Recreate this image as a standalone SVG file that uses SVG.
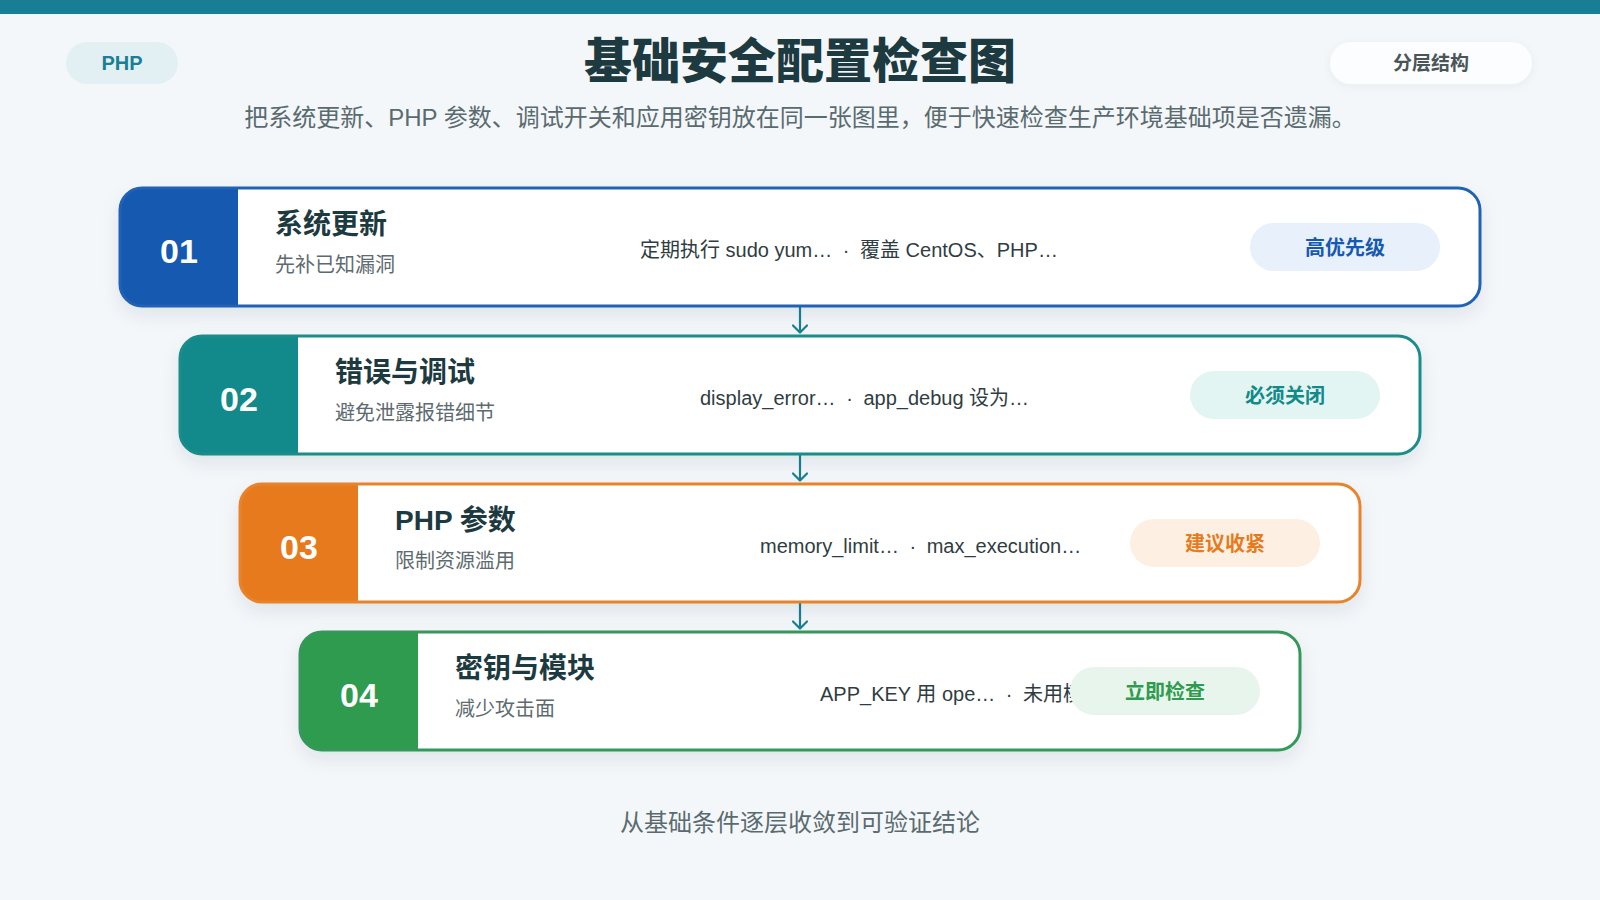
<svg xmlns="http://www.w3.org/2000/svg" width="1600" height="900" viewBox="0 0 1600 900">
<defs>
<filter id="shadow" x="-10%" y="-30%" width="120%" height="170%">
<feDropShadow dx="0" dy="8" stdDeviation="9" flood-color="#1b3a4b" flood-opacity="0.10"/>
</filter>
<filter id="pillShadow" x="-20%" y="-50%" width="140%" height="200%">
<feDropShadow dx="0" dy="2" stdDeviation="4" flood-color="#1b3a4b" flood-opacity="0.05"/>
</filter>
<marker id="chev" viewBox="0 0 10 16" refX="9" refY="8" markerWidth="10" markerHeight="16" markerUnits="userSpaceOnUse" orient="auto">
<path d="M1.5,1 L8.5,8 L1.5,15" fill="none" stroke="#1a7f94" stroke-width="2.2" stroke-linecap="round" stroke-linejoin="round"/>
</marker>
</defs>
<style>
text{font-family:"Liberation Sans","Noto Sans CJK SC",sans-serif}
.cjk{font-family:"Noto Sans CJK SC","Liberation Sans",sans-serif}
.num{font-size:34px;font-weight:700;fill:#ffffff;text-anchor:middle}
.ttl{font-size:28px;font-weight:700;fill:#1d3a40}
.sub{font-size:20px;fill:#5d6b70}
.det{font-size:20px;fill:#2f3d42}
.bdg{font-size:20px;font-weight:700;text-anchor:middle}
.card{fill:#ffffff}
.edge{fill:none;stroke-width:3}
.conn{stroke:#1a7f94;stroke-width:2.2;fill:none}
</style>
<rect x="0" y="0" width="1600" height="900" fill="#f4f7f9"/>
<rect x="0" y="0" width="1600" height="14" fill="#177e93"/>

<g id="tag-php">
<rect x="66" y="42" width="112" height="42" rx="21" fill="#e2f0f4"/>
<text x="122" y="70" text-anchor="middle" style="font-size:20px;font-weight:700;fill:#1a7f94">PHP</text>
</g>
<g id="title">
<text class="cjk" x="800" y="78" text-anchor="middle" style="font-size:48px;font-weight:900;fill:#1d3a40">基础安全配置检查图</text>
<text x="800" y="126" text-anchor="middle" style="font-size:24px;fill:#5a6b70">把系统更新、PHP 参数、调试开关和应用密钥放在同一张图里，便于快速检查生产环境基础项是否遗漏。</text>
</g>
<g id="tag-layer">
<rect x="1330" y="42" width="202" height="42" rx="21" fill="#fbfdfe" filter="url(#pillShadow)"/>
<text class="cjk" x="1431" y="70" text-anchor="middle" style="font-size:19px;font-weight:700;fill:#4a5558">分层结构</text>
</g>

<g id="connectors">
<line class="conn" x1="800" y1="307" x2="800" y2="333" marker-end="url(#chev)"/>
<line class="conn" x1="800" y1="455" x2="800" y2="481" marker-end="url(#chev)"/>
<line class="conn" x1="800" y1="603" x2="800" y2="629" marker-end="url(#chev)"/>
</g>

<g id="node-01">
<rect class="card" x="120" y="188" width="1360" height="118" rx="22" filter="url(#shadow)"/>
<path d="M142,188 H238 V306 H142 A22,22 0 0 1 120,284 V210 A22,22 0 0 1 142,188 Z" fill="#1559b0"/>
<rect class="edge" x="120" y="188" width="1360" height="118" rx="22" stroke="#2262b4"/>
<text class="num" x="179" y="263">01</text>
<text class="ttl cjk" x="275" y="234">系统更新</text>
<text class="sub cjk" x="275" y="272">先补已知漏洞</text>
<text class="det" x="640" y="257">定期执行 sudo yum… <tspan dx="5">·</tspan> <tspan dx="5">覆盖 CentOS、PHP…</tspan></text>
<rect x="1250" y="223" width="190" height="48" rx="24" fill="#e7f0fb"/>
<text class="bdg cjk" x="1345" y="255" fill="#1559b0">高优先级</text>
</g>

<g id="node-02">
<rect class="card" x="180" y="336" width="1240" height="118" rx="22" filter="url(#shadow)"/>
<path d="M202,336 H298 V454 H202 A22,22 0 0 1 180,432 V358 A22,22 0 0 1 202,336 Z" fill="#12898a"/>
<rect class="edge" x="180" y="336" width="1240" height="118" rx="22" stroke="#1a8d8a"/>
<text class="num" x="239" y="411">02</text>
<text class="ttl cjk" x="335" y="382">错误与调试</text>
<text class="sub cjk" x="335" y="420">避免泄露报错细节</text>
<text class="det" x="700" y="405">display_error… <tspan dx="5">·</tspan> <tspan dx="5">app_debug 设为…</tspan></text>
<rect x="1190" y="371" width="190" height="48" rx="24" fill="#e3f5f2"/>
<text class="bdg cjk" x="1285" y="403" fill="#12898a">必须关闭</text>
</g>

<g id="node-03">
<rect class="card" x="240" y="484" width="1120" height="118" rx="22" filter="url(#shadow)"/>
<path d="M262,484 H358 V602 H262 A22,22 0 0 1 240,580 V506 A22,22 0 0 1 262,484 Z" fill="#e67a1c"/>
<rect class="edge" x="240" y="484" width="1120" height="118" rx="22" stroke="#e8832c"/>
<text class="num" x="299" y="559">03</text>
<text class="ttl" x="395" y="530">PHP 参数</text>
<text class="sub cjk" x="395" y="568">限制资源滥用</text>
<text class="det" x="760" y="553">memory_limit… <tspan dx="5">·</tspan> <tspan dx="5">max_execution…</tspan></text>
<rect x="1130" y="519" width="190" height="48" rx="24" fill="#fdf0e2"/>
<text class="bdg cjk" x="1225" y="551" fill="#e67a1c">建议收紧</text>
</g>

<g id="node-04">
<rect class="card" x="300" y="632" width="1000" height="118" rx="22" filter="url(#shadow)"/>
<path d="M322,632 H418 V750 H322 A22,22 0 0 1 300,728 V654 A22,22 0 0 1 322,632 Z" fill="#2e9b4e"/>
<rect class="edge" x="300" y="632" width="1000" height="118" rx="22" stroke="#35985a"/>
<text class="num" x="359" y="707">04</text>
<text class="ttl cjk" x="455" y="678">密钥与模块</text>
<text class="sub cjk" x="455" y="716">减少攻击面</text>
<text class="det" x="820" y="701">APP_KEY 用 ope… <tspan dx="5">·</tspan> <tspan dx="5">未用模…</tspan></text>
<rect x="1070" y="667" width="190" height="48" rx="24" fill="#e8f5ec"/>
<text class="bdg cjk" x="1165" y="699" fill="#2e9b4e">立即检查</text>
</g>

<g id="footer">
<text class="cjk" x="800" y="831" text-anchor="middle" style="font-size:24px;fill:#5a6b70">从基础条件逐层收敛到可验证结论</text>
</g>
</svg>
